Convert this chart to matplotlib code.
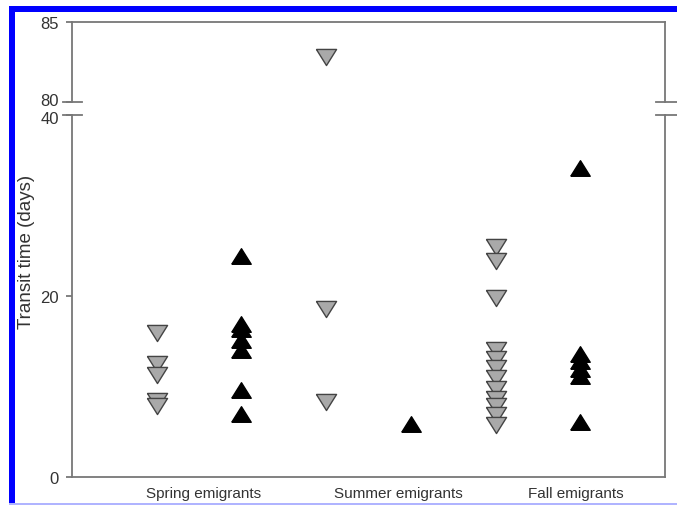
import matplotlib.pyplot as plt
import matplotlib.transforms as mtransforms
from matplotlib.patches import Rectangle
from matplotlib.lines import Line2D

plt.rcParams['font.family'] = ['Liberation Sans', 'DejaVu Sans']

# transit times (days) per group
spring_gray = [15.9, 12.5, 11.3, 8.4, 7.8]
spring_black = [24.4, 16.9, 16.3, 15.1, 14.0, 9.6, 7.0]
summer_gray = [82.8, 18.6, 8.3]
summer_black = [5.9]
fall_gray = [25.4, 23.9, 19.8, 14.0, 13.0, 12.0, 10.9, 9.7, 8.6, 7.8, 6.9, 5.7]
fall_black = [34.1, 13.6, 12.8, 11.9, 11.2, 6.1]

groups = ['Spring emigrants', 'Summer emigrants', 'Fall emigrants']
label_x = [1.55, 3.85, 5.95]

W, H = 677, 506
fig = plt.figure(figsize=(W / 100, H / 100), dpi=100)

def fx(px):
    return px / W

def fy(py):
    return 1 - py / H

L, R = 72, 665
ax_top = fig.add_axes([fx(L), fy(103), fx(R - L), fy(23) - fy(103)])
ax_bot = fig.add_axes([fx(L), fy(478), fx(R - L), fy(116) - fy(478)])

down = [(-1, 0.8), (1, 0.8), (0, -0.8), (-1, 0.8)]
up = [(-1, -0.8), (1, -0.8), (0, 0.8), (-1, -0.8)]
gray_kw = dict(marker=down, ms=14.5, mfc='#a9a9a9', mec='#444444', mew=1.0, ls='none', clip_on=False)
black_kw = dict(marker=up, ms=14, mfc='black', mec='black', mew=1.0, ls='none', clip_on=False)

series = [(1, spring_gray, gray_kw), (2, spring_black, black_kw),
          (3, summer_gray, gray_kw), (4, summer_black, black_kw),
          (5, fall_gray, gray_kw), (6, fall_black, black_kw)]

for ax in (ax_top, ax_bot):
    for x, vals, kw in series:
        ax.plot([x] * len(vals), vals, **kw)
    ax.set_xlim(0, 7)
    ax.set_xticks([])
    for s in ax.spines.values():
        s.set_color('#777777')
        s.set_linewidth(1.3)
    ax.tick_params(axis='y', direction='out', length=4.5, width=1.3, color='#777777',
                   labelsize=12, labelcolor='#333333', pad=5)

ax_top.set_ylim(80, 85)
ax_top.set_yticks([80, 85])
ax_top.spines['bottom'].set_visible(False)

ax_bot.set_ylim(0, 40)
ax_bot.set_yticks([0, 20, 40])
ax_bot.spines['top'].set_visible(False)

# keep the "80" and "40" labels at the break from running into each other
fig.canvas.draw()
ax_top.get_yticklabels()[0].set_transform(
    ax_top.get_yticklabels()[0].get_transform()
    + mtransforms.ScaledTranslation(0, 2.5 / 72, fig.dpi_scale_trans))
ax_bot.get_yticklabels()[2].set_transform(
    ax_bot.get_yticklabels()[2].get_transform()
    + mtransforms.ScaledTranslation(0, -1.5 / 72, fig.dpi_scale_trans))

# axis break marks on both sides
for py in (103, 116):
    for x0, x1 in ((63, 82), (656, 677)):
        fig.add_artist(Line2D([fx(x0), fx(x1)], [fy(py), fy(py)], color='#777777', lw=1.3))

for x, name in zip(label_x, groups):
    ax_bot.text(x, -0.045, name, transform=ax_bot.get_xaxis_transform(),
                ha='center', va='center', fontsize=11, color='#333333')

fig.text(fx(27), fy(252), 'Transit time (days)', rotation=90, ha='center', va='center',
         fontsize=13.5, color='#333333')

# blue frame
fig.add_artist(Rectangle((fx(9), 0), fx(6), fy(7), color='#0000ff', lw=0))
fig.add_artist(Rectangle((fx(9), fy(13)), 1, fy(7) - fy(13), color='#0000ff', lw=0))
fig.add_artist(Rectangle((fx(9), 0), 1, fy(504), color='#b0b4ff', lw=0))

fig.savefig('out.png', dpi=100)
